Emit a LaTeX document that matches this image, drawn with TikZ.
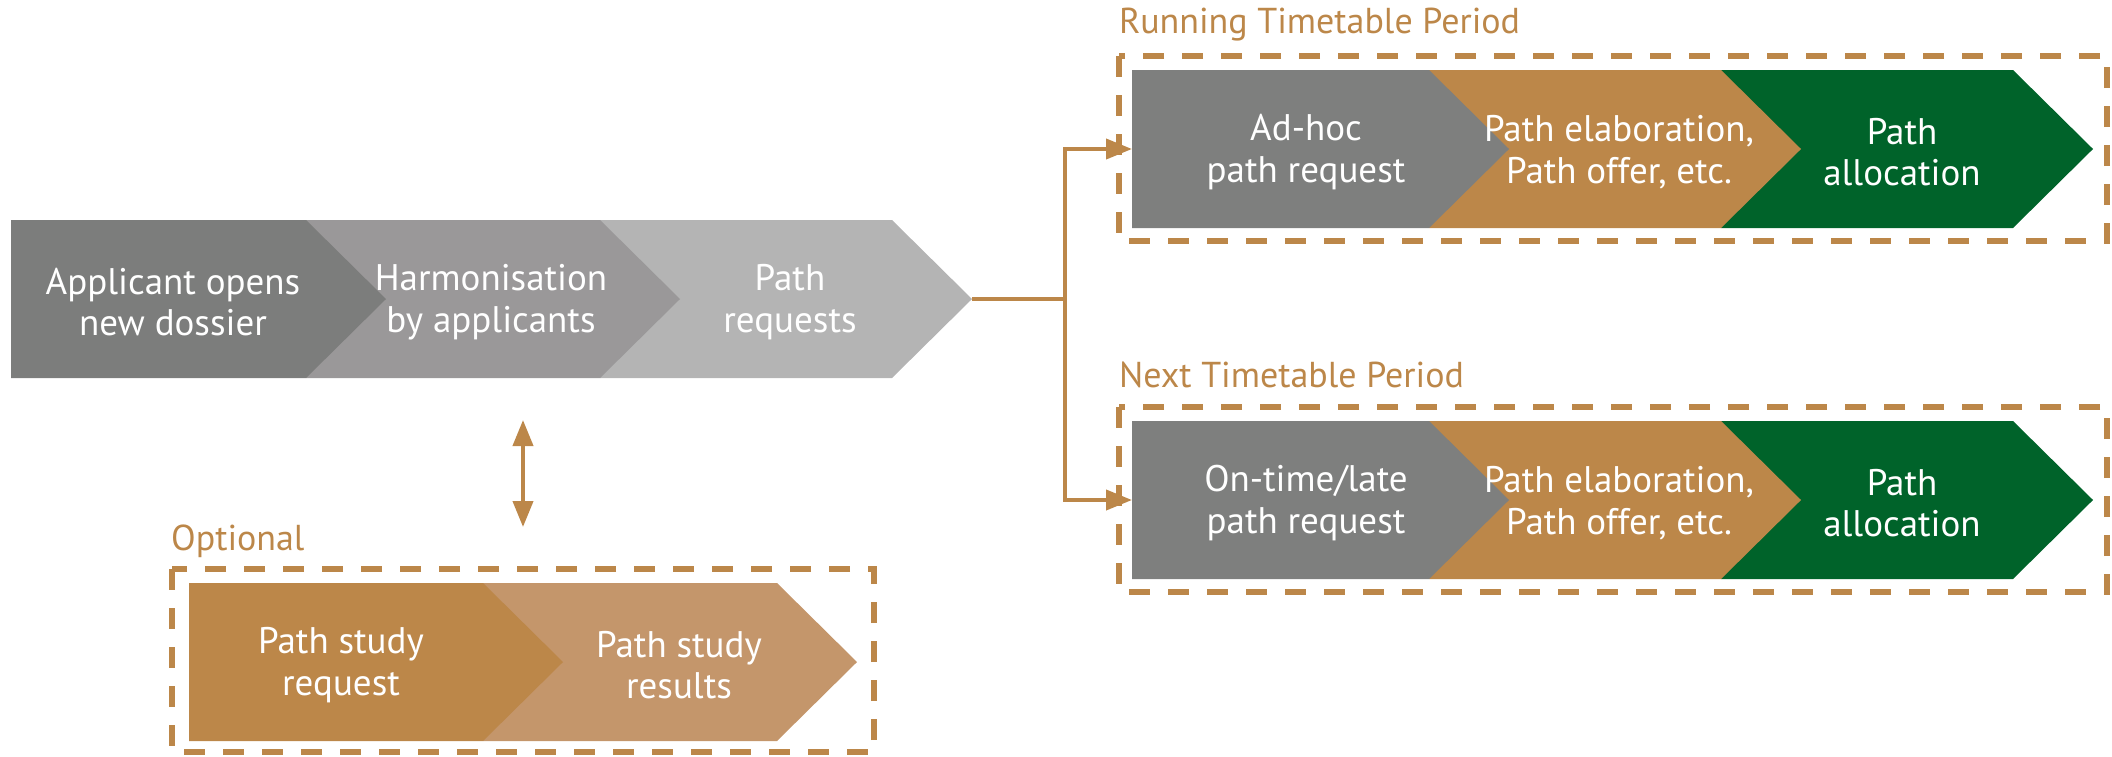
\documentclass[tikz,border=0pt]{standalone}
\usepackage{fontspec}
\setmainfont{PT Sans}
\usetikzlibrary{arrows.meta}
\definecolor{gA}{HTML}{7C7D7C}
\definecolor{gB}{HTML}{9A9899}
\definecolor{gC}{HTML}{B4B4B4}
\definecolor{gR}{HTML}{7E7F7E}
\definecolor{tanc}{HTML}{BC8749}
\definecolor{tanL}{HTML}{C4966B}
\definecolor{grn}{HTML}{00632A}
\newcommand\chv[4]{\fill[#4] (#1,#3) -- (#2,#3) -- ({#2+80},{#3+79}) -- (#2,{#3+158}) -- (#1,{#3+158}) -- cycle;}
\tikzset{
  txt/.style={text=white, align=center, inner sep=0pt, font=\fontsize{37}{41.5}\selectfont},
  ttl/.style={text=tanc, anchor=base west, inner sep=0pt, font=\fontsize{36}{40}\selectfont},
  dbox/.style={draw=tanc, line width=5.5pt, dash pattern=on 21pt off 18pt},
  conn/.style={draw=tanc, line width=4pt},
  arr/.style={-{Triangle[length=26pt,width=20pt]}},
  darr/.style={{Triangle[length=26pt,width=20pt]}-{Triangle[length=26pt,width=20pt]}}
}
\begin{document}
\begin{tikzpicture}[x=1pt,y=-1pt]
\useasboundingbox (0,0) rectangle (2112,756);
% main row
\chv{600}{892}{220}{gC}
\chv{306}{600}{220}{gB}
\chv{11}{306}{220}{gA}
\node[txt] (t1) at (173,302) {Applicant opens\\new dossier};
\node[txt] (t2) at (491,302) {Harmonisation\\by applicants};
\node[txt] (t3) at (790,302) {Path\\requests};
% running
\draw[dbox] (1119,56) rectangle (2107,241);
\chv{1721}{2013}{70}{grn}
\chv{1429}{1721}{70}{tanc}
\chv{1132}{1429}{70}{gR}
\node[txt] (r1) at (1306,152) {Ad-hoc\\path request};
\node[txt] (r2) at (1619,152) {Path elaboration,\\Path offer, etc.};
\node[txt] (r3) at (1902,152) {Path\\allocation};
\node[ttl] (rl) at (1119,33) {Running Timetable Period};
% next
\draw[dbox] (1119,407) rectangle (2107,592);
\chv{1721}{2013}{421}{grn}
\chv{1429}{1721}{421}{tanc}
\chv{1132}{1429}{421}{gR}
\node[txt] (n1) at (1306,503) {On-time/late\\path request};
\node[txt] (n2) at (1619,503) {Path elaboration,\\Path offer, etc.};
\node[txt] (n3) at (1902,503) {Path\\allocation};
\node[ttl] (nl) at (1119,387) {Next Timetable Period};
% optional
\draw[dbox] (172,569) rectangle (874,752);
\chv{483}{777}{583}{tanL}
\chv{189}{483}{583}{tanc}
\node[txt] (o1) at (341,665) {Path study\\request};
\node[txt] (o2) at (679,665) {Path study\\results};
\node[ttl] (ol) at (171,550) {Optional};
% connectors
\coordinate (reqtip) at (972,299);
\coordinate (split) at (1065,299);
\coordinate (rin) at (1132,149);
\coordinate (nin) at (1132,500);
\coordinate (dtop) at (523,420);
\coordinate (dbot) at (523,527);
\draw[conn] (reqtip) -- (split);
\draw[conn,arr] (split) |- (rin);
\draw[conn,arr] (split) |- (nin);
\draw[conn,darr] (dtop) -- (dbot);
\end{tikzpicture}
\end{document}
